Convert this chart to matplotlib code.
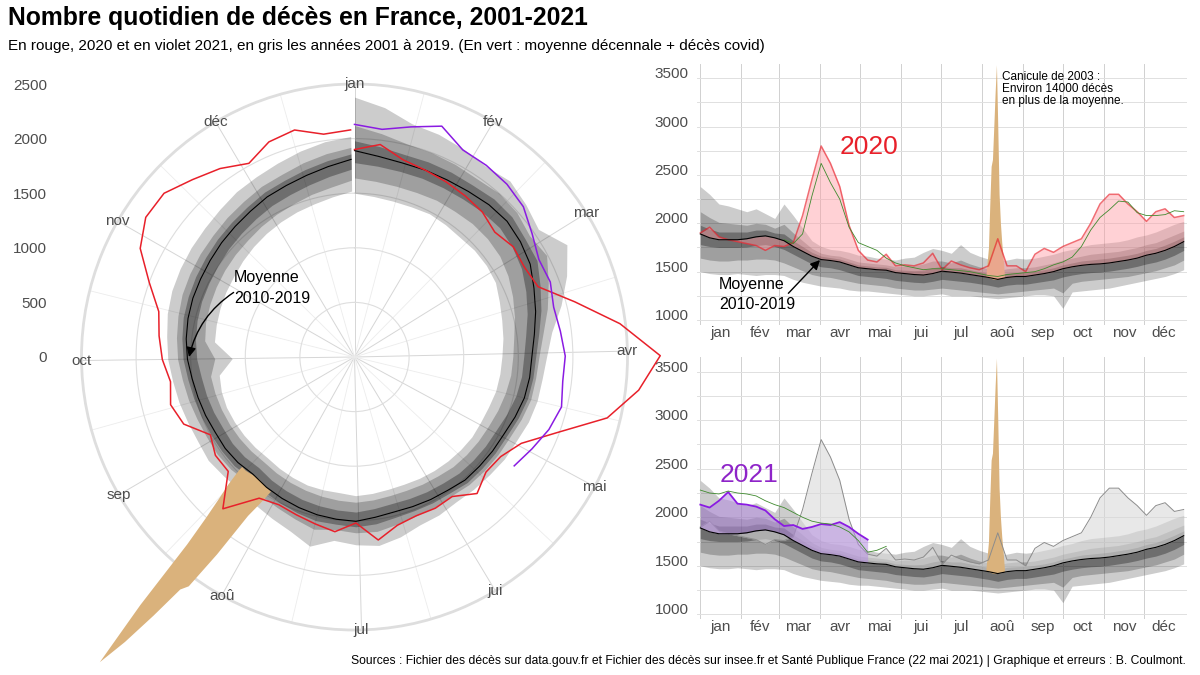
import numpy as np
import matplotlib.pyplot as plt
from matplotlib.transforms import ScaledTranslation

plt.rcParams["font.family"] = ["Liberation Sans", "DejaVu Sans"]

# ============================================================
# Data (weekly points, day-of-year from jan 1)
# ============================================================
days = np.arange(0, 365, 7)

mean_2010_2019 = [1890, 1850, 1830, 1830, 1830, 1840, 1860, 1870, 1850, 1820,
                  1760, 1710, 1660, 1625, 1615, 1600, 1570, 1540, 1530, 1520,
                  1515, 1490, 1480, 1470, 1465, 1480, 1505, 1495, 1485, 1470,
                  1455, 1440, 1420, 1440, 1450, 1450, 1465, 1480, 1500, 1530,
                  1550, 1565, 1575, 1580, 1590, 1605, 1620, 1640, 1670, 1690,
                  1720, 1760, 1810]

# spread of the years 2001-2019 around the mean (outer / mid / inner)
years_hi_outer = [2380, 2300, 2200, 2180, 2150, 2120, 2150, 2100, 2050, 2200,
                  2080, 1950, 1820, 1760, 1730, 1720, 1700, 1670, 1660, 1640,
                  1630, 1620, 1640, 1650, 1700, 1740, 1720, 1690, 1780, 1700,
                  1660, 1630, 1610, 1620, 1640, 1630, 1640, 1660, 1680, 1710,
                  1730, 1760, 1780, 1790, 1800, 1810, 1830, 1860, 1880, 1910,
                  1950, 1990, 2020]
years_hi_mid = [2120, 2060, 2010, 2000, 1990, 1980, 2000, 1990, 1950, 1990,
                1900, 1820, 1740, 1690, 1670, 1660, 1630, 1600, 1590, 1580,
                1570, 1550, 1560, 1560, 1580, 1610, 1610, 1590, 1620, 1580,
                1550, 1530, 1510, 1530, 1540, 1540, 1550, 1570, 1590, 1620,
                1640, 1660, 1680, 1690, 1700, 1710, 1730, 1750, 1780, 1800,
                1840, 1880, 1920]
years_hi_inner = [1980, 1940, 1910, 1910, 1910, 1910, 1930, 1930, 1900, 1890,
                  1820, 1760, 1700, 1660, 1645, 1630, 1600, 1570, 1560, 1550,
                  1545, 1520, 1515, 1510, 1515, 1540, 1555, 1540, 1540, 1520,
                  1500, 1485, 1460, 1485, 1490, 1495, 1505, 1520, 1540, 1570,
                  1590, 1610, 1620, 1630, 1640, 1655, 1670, 1690, 1720, 1740,
                  1775, 1815, 1860]
years_lo_inner = [1780, 1760, 1750, 1750, 1750, 1755, 1770, 1780, 1760, 1730,
                  1680, 1630, 1580, 1550, 1540, 1520, 1490, 1460, 1450, 1440,
                  1430, 1410, 1400, 1390, 1385, 1400, 1420, 1410, 1400, 1390,
                  1375, 1360, 1340, 1360, 1370, 1370, 1385, 1400, 1415, 1445,
                  1465, 1480, 1490, 1495, 1505, 1520, 1535, 1555, 1580, 1600,
                  1630, 1670, 1720]
years_lo_mid = [1640, 1620, 1610, 1610, 1620, 1620, 1630, 1630, 1620, 1590,
                1550, 1510, 1470, 1450, 1440, 1420, 1400, 1380, 1370, 1360,
                1350, 1330, 1320, 1310, 1310, 1320, 1330, 1320, 1310, 1300,
                1290, 1280, 1270, 1280, 1290, 1300, 1310, 1320, 1330, 1280,
                1380, 1400, 1410, 1420, 1430, 1440, 1450, 1470, 1490, 1510,
                1540, 1570, 1620]
years_lo_outer = [1500, 1480, 1470, 1470, 1480, 1470, 1460, 1470, 1470, 1460,
                  1420, 1390, 1370, 1350, 1340, 1330, 1310, 1300, 1300, 1290,
                  1280, 1270, 1260, 1250, 1250, 1260, 1270, 1250, 1250, 1250,
                  1240, 1230, 1220, 1230, 1240, 1250, 1260, 1260, 1250, 1120,
                  1290, 1300, 1310, 1320, 1330, 1350, 1370, 1390, 1410, 1430,
                  1450, 1480, 1520]

deaths_2020 = [1900, 1960, 1860, 1830, 1810, 1790, 1770, 1720, 1770, 1760,
               1800, 2080, 2450, 2800, 2620, 2380, 1980, 1720, 1620, 1600,
               1680, 1560, 1570, 1560, 1590, 1690, 1520, 1610, 1570, 1540,
               1520, 1560, 1840, 1560, 1560, 1500, 1680, 1740, 1700, 1760,
               1800, 1840, 2000, 2200, 2300, 2300, 2200, 2120, 2020, 2120,
               2150, 2060, 2080]

# mean + covid deaths, 2020 (from early march)
days_covid_2020 = np.arange(63, 365, 7)
covid_2020 = [1830, 1790, 1890, 2280, 2620, 2420, 2250, 1960, 1800, 1760,
              1720, 1640, 1590, 1560, 1540, 1520, 1530, 1530, 1520, 1510,
              1500, 1480, 1460, 1450, 1470, 1480, 1490, 1500, 1530, 1570,
              1600, 1650, 1760, 1930, 2060, 2140, 2230, 2220, 2110, 2080,
              2080, 2090, 2130, 2120]

days_2021 = np.arange(0, 127, 7)
deaths_2021 = [2130, 2100, 2170, 2260, 2140, 2130, 2110, 2070, 1980, 1910,
               1920, 1880, 1900, 1930, 1920, 1950, 1900, 1830, 1770]

days_covid_2021 = np.arange(0, 141, 7)
covid_2021 = [2280, 2250, 2240, 2270, 2250, 2240, 2220, 2170, 2130, 2100,
              2050, 2000, 1960, 1940, 1930, 1900, 1850, 1760, 1640, 1660, 1700]

# heat wave of august 2003 (daily)
days_2003 = np.arange(215, 230)
canicule_2003 = [1450, 1600, 1750, 2200, 2590, 2660, 3000, 3350, 3640, 3000,
                 2300, 2000, 1800, 1650, 1470]
canicule_base = [1450, 1445, 1440, 1435, 1430, 1425, 1420, 1420, 1420, 1425,
                 1430, 1435, 1440, 1440, 1440]

month_starts = [0, 31, 59, 90, 120, 151, 181, 212, 243, 273, 304, 334]
month_mids = [15, 45, 74, 105, 135, 166, 196, 227, 258, 288, 319, 349]
month_names = ['jan', 'fév', 'mar', 'avr', 'mai', 'jui', 'jul', 'aoû', 'sep', 'oct', 'nov', 'déc']
r_ticks = [0, 500, 1000, 1500, 2000, 2500]
y_ticks = [1000, 1500, 2000, 2500, 3000, 3500]

# ============================================================
# Style
# ============================================================
RED = '#e8202a'
PURPLE = '#8a1be2'
GREEN = '#3f8a2e'
TAN = '#dab27c'
GREY_TXT = '#4d4d4d'
mean = np.array(mean_2010_2019)
bands = [(years_hi_outer, 0.2), (years_hi_mid, 0.22), (years_hi_inner, 0.3),
         (years_lo_inner, 0.3), (years_lo_mid, 0.22), (years_lo_outer, 0.2)]


def theta(d):
    return 2 * np.pi * np.asarray(d) / 365.0


fig = plt.figure(figsize=(12, 6.75), dpi=100, facecolor='white')

# ============================================================
# Polar panel
# ============================================================
R_MAX = 2500
pol_rect = [(354.5 - 273) / 1200, (318 - 273) / 675, 546 / 1200, 546 / 675]

# radial labels on the left (plain axis sharing the polar box)
axl = fig.add_axes(pol_rect, frameon=False, zorder=0)
axl.set_xlim(-1, 1)
axl.set_ylim(-R_MAX, R_MAX)
axl.set_xticks([])
axl.set_yticks(r_ticks)
axl.set_yticklabels([str(v) for v in r_ticks])
axl.tick_params(axis='y', length=0, pad=25, labelsize=11, labelcolor=GREY_TXT)
axl.patch.set_visible(False)

axp = fig.add_axes(pol_rect, projection='polar', zorder=1)
axp.patch.set_visible(False)
axp.set_theta_zero_location('N')
axp.set_theta_direction(-1)
axp.set_ylim(0, R_MAX)
axp.set_xticks(theta(month_starts))
axp.set_xticklabels([])
axp.set_xticks(theta(month_mids), minor=True)
axp.set_yticks([500, 1000, 1500, 2000])
axp.set_yticklabels([])
axp.tick_params(which='both', length=0)
axp.xaxis.grid(True, which='major', color='#d6d6d6', lw=0.7)
axp.xaxis.grid(True, which='minor', color='#ececec', lw=0.6)
axp.yaxis.grid(True, color='#dedede', lw=0.8)
axp.spines['polar'].set_color('#dedede')
axp.spines['polar'].set_linewidth(2)
axp.set_axisbelow(True)

th = theta(days)
for arr, a in bands:
    axp.fill_between(th, mean, arr, color='black', alpha=a, lw=0, clip_on=False)
axp.fill_between(theta(days_2003), canicule_base, canicule_2003, color=TAN, lw=0,
                 clip_on=False, zorder=3)
axp.plot(th, mean, color='black', lw=0.8, clip_on=False, zorder=4)
axp.plot(th, deaths_2020, color=RED, lw=1.1, clip_on=False, zorder=5)
axp.plot(theta(days_2021), deaths_2021, color=PURPLE, lw=1.1, clip_on=False, zorder=6)

for d, name in zip(month_starts, month_names):
    axp.text(theta(d), R_MAX, name, ha='center', va='center', fontsize=11, color=GREY_TXT)

axp.text(np.deg2rad(299.8), 1272, 'Moyenne\n2010-2019', ha='left', va='center',
         fontsize=11.5, linespacing=1.45, zorder=7)
axp.annotate('', xy=(np.deg2rad(270), 1515), xytext=(np.deg2rad(298.1), 1255),
             arrowprops=dict(arrowstyle='-|>', color='black', lw=1.0, mutation_scale=14,
                             shrinkA=0, shrinkB=0, connectionstyle='arc3,rad=0.2'),
             zorder=7)

# ============================================================
# Right panels
# ============================================================
ax1 = fig.add_axes([697 / 1200, (675 - 325) / 675, 490 / 1200, 261 / 675])
ax2 = fig.add_axes([697 / 1200, (675 - 619) / 675, 490 / 1200, 262 / 675])
label_lift = ScaledTranslation(0, 5.5 / 100, fig.dpi_scale_trans)


def setup(ax, ylim):
    ax.set_xlim(-2.5, 366.5)
    ax.set_ylim(*ylim)
    ax.set_xticks(month_starts)
    ax.set_xticklabels([])
    ax.set_xticks(month_mids, minor=True)
    ax.set_xticklabels(month_names, minor=True)
    ax.set_yticks(y_ticks)
    ax.set_yticks([1250, 1750, 2250, 2750, 3250], minor=True)
    ax.grid(which='major', axis='x', color='#d0d0d0', lw=0.7)
    ax.grid(which='both', axis='y', color='#e0e0e0', lw=0.7)
    ax.tick_params(which='both', length=0, labelsize=11, labelcolor=GREY_TXT)
    ax.tick_params(axis='y', pad=6)
    ax.tick_params(axis='x', which='minor', pad=1)
    for lab in ax.get_yticklabels():
        lab.set_transform(lab.get_transform() + label_lift)
    for s in ax.spines.values():
        s.set_visible(False)
    ax.set_axisbelow(True)
    for arr, a in bands:
        ax.fill_between(days, mean, arr, color='black', alpha=a, lw=0)


# 2020
setup(ax1, (948, 3648))
ax1.fill_between(days_2003, canicule_base, canicule_2003, color=TAN, lw=0, zorder=3)
ax1.fill_between(days, mean, deaths_2020, color='#ff9aa2', alpha=0.45, lw=0, zorder=3)
ax1.plot(days, deaths_2020, color=RED, alpha=0.65, lw=1.1, zorder=4)
ax1.plot(days_covid_2020, covid_2020, color=GREEN, lw=0.6, zorder=5)
ax1.plot(days, mean, color='black', lw=0.8, zorder=6)
ax1.text(105.2, 2786, '2020', color=RED, fontsize=19, ha='left', va='center')
ax1.text(227, 3580, 'Canicule de 2003 :\nEnviron 14000 décès\nen plus de la moyenne.',
         fontsize=8.5, ha='left', va='top', linespacing=1.05)
ax1.text(14, 1265, 'Moyenne\n2010-2019', fontsize=11.5, ha='left', va='center',
         linespacing=1.45, zorder=7)
ax1.annotate('', xy=(90.1, 1620), xytext=(66.3, 1276),
             arrowprops=dict(arrowstyle='-|>', color='black', lw=1.0, mutation_scale=14,
                             shrinkA=0, shrinkB=0), zorder=7)

# 2021
setup(ax2, (952, 3651))
ax2.fill_between(days, mean, deaths_2020, color='#d9d9d9', alpha=0.6, lw=0, zorder=3)
ax2.fill_between(days_2003, canicule_base, canicule_2003, color=TAN, lw=0, zorder=3)
ax2.plot(days, deaths_2020, color='#8c8c8c', lw=0.7, zorder=4)
ax2.fill_between(days_2021, mean[:len(days_2021)], deaths_2021, color='#b48be0',
                 alpha=0.55, lw=0, zorder=4)
ax2.plot(days_2021, deaths_2021, color=PURPLE, lw=1.3, zorder=5)
ax2.plot(days_covid_2021, covid_2021, color=GREEN, lw=0.6, zorder=5)
ax2.plot(days, mean, color='black', lw=0.8, zorder=6)
ax2.text(14.3, 2435, '2021', color='#8e24c8', fontsize=19, ha='left', va='center')

# ============================================================
# Titles
# ============================================================
fig.text(8 / 1200, 1 - 18 / 675, 'Nombre quotidien de décès en France, 2001-2021',
         fontsize=17.8, fontweight='bold', va='center')
fig.text(8 / 1200, 1 - 46 / 675,
         'En rouge, 2020 et en violet 2021, en gris les années 2001 à 2019. '
         '(En vert : moyenne décennale + décès covid)', fontsize=11, va='center')
fig.text(1186 / 1200, 1 - 661 / 675,
         'Sources : Fichier des décès sur data.gouv.fr et Fichier des décès sur insee.fr '
         'et Santé Publique France (22 mai 2021) | Graphique et erreurs : B. Coulmont.',
         fontsize=8.75, ha='right', va='center')

fig.savefig('out.png', dpi=100, facecolor='white')
